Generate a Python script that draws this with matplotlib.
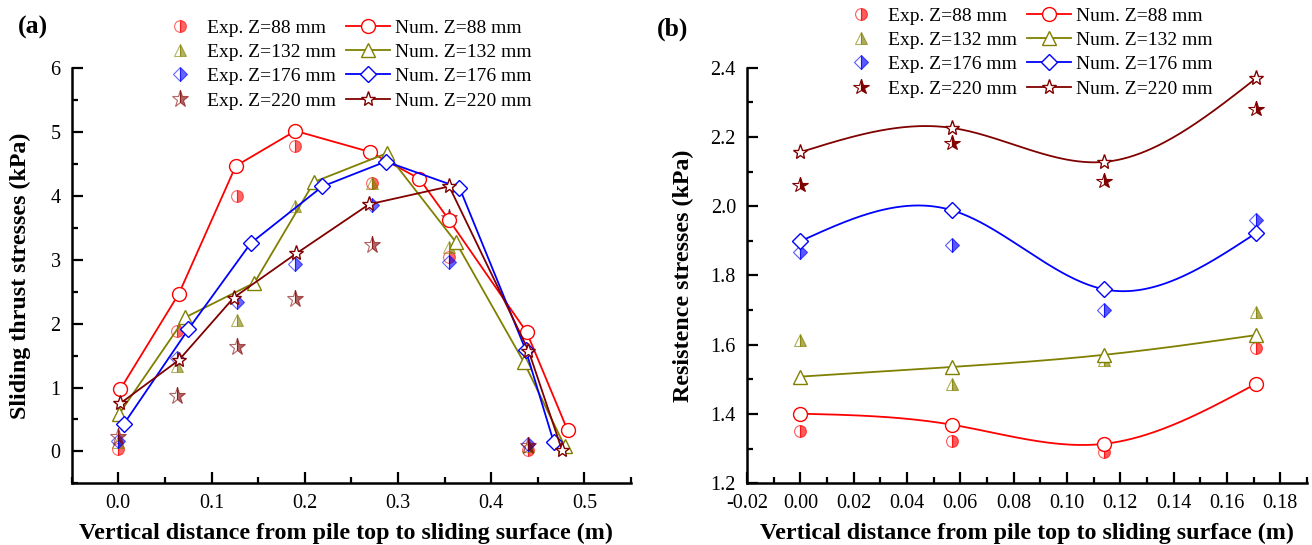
import numpy as np
import matplotlib
matplotlib.use("Agg")
import matplotlib.pyplot as plt
from matplotlib.ticker import MultipleLocator, FormatStrFormatter
from matplotlib.lines import Line2D

plt.rcParams['font.family'] = ['Liberation Serif', 'DejaVu Serif']
plt.rcParams['axes.unicode_minus'] = False
plt.rcParams['mathtext.fontset'] = 'stix'

# ---------------- data: panel (a) ----------------
a_exp_x = [0.0, 0.063, 0.127, 0.19, 0.272, 0.355, 0.44]
a_exp88 = [0.03, 1.88, 4.0, 4.78, 4.20, 3.05, 0.02]
a_exp132 = [0.14, 1.34, 2.06, 3.84, 4.21, 3.20, 0.08]
a_exp176 = [0.16, 1.46, 2.34, 2.94, 3.86, 2.97, 0.11]
a_exp220 = [0.23, 0.86, 1.64, 2.39, 3.23, 3.65, 0.09]

a_num88_x = [0.002, 0.065, 0.126, 0.19, 0.27, 0.323, 0.355, 0.438, 0.482]
a_num88_y = [0.97, 2.47, 4.47, 5.02, 4.69, 4.27, 3.62, 1.87, 0.33]
a_num132_x = [0.001, 0.072, 0.146, 0.21, 0.288, 0.362, 0.435, 0.479]
a_num132_y = [0.59, 2.10, 2.64, 4.22, 4.67, 3.28, 1.40, 0.08]
a_num176_x = [0.006, 0.075, 0.142, 0.219, 0.287, 0.366, 0.437, 0.467]
a_num176_y = [0.43, 1.91, 3.26, 4.15, 4.54, 4.13, 1.59, 0.15]
a_num220_x = [0.002, 0.065, 0.124, 0.191, 0.269, 0.355, 0.44, 0.476]
a_num220_y = [0.75, 1.43, 2.41, 3.10, 3.87, 4.15, 1.58, 0.02]

# ---------------- data: panel (b) ----------------
b_x = [0.0, 0.057, 0.114, 0.171]
b_exp88 = [1.35, 1.321, 1.29, 1.59]
b_exp132 = [1.614, 1.486, 1.555, 1.696]
b_exp176 = [1.867, 1.889, 1.70, 1.96]
b_exp220 = [2.062, 2.183, 2.072, 2.281]
b_num88 = [1.401, 1.369, 1.314, 1.488]
b_num132 = [1.508, 1.536, 1.571, 1.628]
b_num176 = [1.899, 1.988, 1.76, 1.923]
b_num220 = [2.156, 2.226, 2.128, 2.37]

labels_exp = ['Exp. Z=88 mm', 'Exp. Z=132 mm', 'Exp. Z=176 mm', 'Exp. Z=220 mm']
labels_num = ['Num. Z=88 mm', 'Num. Z=132 mm', 'Num. Z=176 mm', 'Num. Z=220 mm']

colors = ['#FF0000', '#808000', '#0000FF', '#800000']
num_markers = ['o', '^', 'D', '*']
num_ms = [10, 10.5, 8, 11]
exp_ms = [8.5, 9, 6.8, 12.5]


def natural_spline(x, y, n=300):
    x = np.asarray(x, float)
    y = np.asarray(y, float)
    h = np.diff(x)
    m = len(x)
    M = np.zeros(m)
    if m > 2:
        A = np.zeros((m - 2, m - 2))
        rhs = 6 * ((y[2:] - y[1:-1]) / h[1:] - (y[1:-1] - y[:-2]) / h[:-1])
        for i in range(m - 2):
            A[i, i] = 2 * (h[i] + h[i + 1])
            if i > 0:
                A[i, i - 1] = h[i]
            if i < m - 3:
                A[i, i + 1] = h[i + 1]
        M[1:-1] = np.linalg.solve(A, rhs)
    xs = np.linspace(x[0], x[-1], n)
    ys = np.empty_like(xs)
    for k, xv in enumerate(xs):
        i = min(np.searchsorted(x, xv, side='right') - 1, m - 2)
        i = max(i, 0)
        t0 = x[i + 1] - xv
        t1 = xv - x[i]
        hi = h[i]
        ys[k] = (M[i] * t0 ** 3 / (6 * hi) + M[i + 1] * t1 ** 3 / (6 * hi)
                 + (y[i] / hi - M[i] * hi / 6) * t0
                 + (y[i + 1] / hi - M[i + 1] * hi / 6) * t1)
    return xs, ys


fig = plt.figure(figsize=(13.12, 5.45), dpi=100)
W, H = 1312, 545
ax1 = fig.add_axes([71.7 / W, (H - 483.3) / H, (631 - 71.7) / W, (483.3 - 68.3) / H])
ax2 = fig.add_axes([747 / W, (H - 483.3) / H, (1307 - 747) / W, (483.3 - 67.7) / H])

# ---- panel (a) ----
exp_a = [a_exp88, a_exp132, a_exp176, a_exp220]
num_a = [(a_num88_x, a_num88_y), (a_num132_x, a_num132_y),
         (a_num176_x, a_num176_y), (a_num220_x, a_num220_y)]
h_exp_a, h_num_a = [], []
for i in range(4):
    h, = ax1.plot(a_exp_x, exp_a[i], linestyle='none', marker=num_markers[i],
                  ms=exp_ms[i], mfc=colors[i], mfcalt='none', mec=colors[i],
                  mew=0.8, fillstyle='right', alpha=0.6, label=labels_exp[i], zorder=2)
    h_exp_a.append(h)
for i in range(4):
    xs, ys = num_a[i]
    h, = ax1.plot(xs, ys, color=colors[i], lw=1.3, marker=num_markers[i],
                  ms=num_ms[i], mfc='white', mec=colors[i], mew=1.0,
                  label=labels_num[i], zorder=3)
    h_num_a.append(h)

ax1.set_xlim(-0.05, 0.55)
ax1.set_ylim(-0.5, 6)
ax1.xaxis.set_major_locator(MultipleLocator(0.1))
ax1.xaxis.set_minor_locator(MultipleLocator(0.05))
ax1.yaxis.set_major_locator(MultipleLocator(1))
ax1.yaxis.set_minor_locator(MultipleLocator(0.5))
ax1.xaxis.set_major_formatter(FormatStrFormatter('%.1f'))
ax1.yaxis.set_major_formatter(FormatStrFormatter('%d'))
ax1.set_xlabel('Vertical distance from pile top to sliding surface (m)',
               fontsize=17.3, fontweight='bold')
ax1.set_ylabel('Sliding thrust stresses (kPa)', fontsize=17.3, fontweight='bold')
ax1.xaxis.set_label_coords(0.49, (483.3 - 533) / 415.0)
ax1.yaxis.set_label_coords((20 - 71.7) / 559.3, 0.5)

# ---- panel (b) ----
exp_b = [b_exp88, b_exp132, b_exp176, b_exp220]
num_b = [b_num88, b_num132, b_num176, b_num220]
h_exp_b, h_num_b = [], []
for i in range(4):
    al = 1.0 if i == 3 else 0.65
    h, = ax2.plot(b_x, exp_b[i], linestyle='none', marker=num_markers[i],
                  ms=exp_ms[i] if i < 3 else 11.5, mfc=colors[i], mfcalt='none',
                  mec=colors[i], mew=0.8, fillstyle='right', alpha=al,
                  label=labels_exp[i], zorder=2)
    h_exp_b.append(h)
for i in range(4):
    sx, sy = natural_spline(b_x, num_b[i])
    ax2.plot(sx, sy, color=colors[i], lw=1.3, zorder=3)
    ax2.plot(b_x, num_b[i], linestyle='none', marker=num_markers[i],
             ms=num_ms[i], mfc='white', mec=colors[i], mew=1.0, zorder=4)
    h_num_b.append(Line2D([], [], color=colors[i], lw=1.3, marker=num_markers[i],
                          ms=num_ms[i], mfc='white', mec=colors[i], mew=1.0,
                          label=labels_num[i]))

ax2.set_xlim(-0.02, 0.19)
ax2.set_ylim(1.2, 2.4)
ax2.xaxis.set_major_locator(MultipleLocator(0.02))
ax2.xaxis.set_minor_locator(MultipleLocator(0.01))
ax2.yaxis.set_major_locator(MultipleLocator(0.2))
ax2.yaxis.set_minor_locator(MultipleLocator(0.1))
ax2.xaxis.set_major_formatter(FormatStrFormatter('%.2f'))
ax2.yaxis.set_major_formatter(FormatStrFormatter('%.1f'))
ax2.set_xlabel('Vertical distance from pile top to sliding surface (m)',
               fontsize=17.3, fontweight='bold')
ax2.set_ylabel('Resistence stresses (kPa)', fontsize=17.3, fontweight='bold')
ax2.xaxis.set_label_coords(0.5, (483.3 - 533) / 415.6)
ax2.yaxis.set_label_coords((683 - 747) / 560.0, 0.5)

for ax in (ax1, ax2):
    ax.xaxis.label.set_va('center')
    ax.yaxis.label.set_va('center')
    for s in ('top', 'right'):
        ax.spines[s].set_visible(False)
    for s in ('left', 'bottom'):
        ax.spines[s].set_linewidth(1.8)
    ax.tick_params(which='major', direction='in', length=8, width=1.6,
                   labelsize=14.5, pad=8)
    ax.tick_params(which='minor', direction='in', length=4.5, width=1.6)
    ax.set_facecolor('none')

# legends
leg_kw = dict(ncol=2, frameon=False, fontsize=14, handlelength=2.25,
              handletextpad=0.28, columnspacing=0.5, labelspacing=0.345,
              borderpad=0, borderaxespad=0, numpoints=1)
fig.legend(h_exp_a + h_num_a, labels_exp + labels_num, loc='upper left',
           bbox_to_anchor=(158 / W, 1 - 19 / H), **leg_kw)
fig.legend(h_exp_b + h_num_b, labels_exp + labels_num, loc='upper left',
           bbox_to_anchor=(839 / W, 1 - 7 / H), **leg_kw)

fig.text(32.5 / W, 1 - 27.5 / H, '(a)', fontsize=18.5, fontweight='bold',
         ha='center', va='center')
fig.text(673 / W, 1 - 29 / H, '(b)', fontsize=18.5, fontweight='bold',
         ha='center', va='center')

fig.savefig('out.png', dpi=100)
